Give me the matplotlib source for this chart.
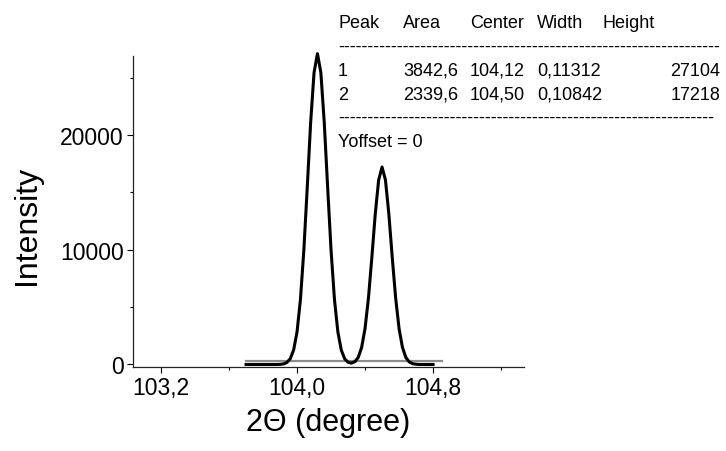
import matplotlib
matplotlib.use('Agg')
import matplotlib.pyplot as plt
from matplotlib.ticker import MultipleLocator, FuncFormatter

plt.rcParams['font.family'] = ['Liberation Sans', 'DejaVu Sans']

# Fitted curve (sum of two peaks)
two_theta = [103.70, 103.72, 103.74, 103.76, 103.78, 103.80, 103.82, 103.84,
             103.86, 103.88, 103.90, 103.92, 103.94, 103.96, 103.98, 104.00,
             104.02, 104.04, 104.06, 104.08, 104.10, 104.12, 104.14, 104.16,
             104.18, 104.20, 104.22, 104.24, 104.26, 104.28, 104.30, 104.32,
             104.34, 104.36, 104.38, 104.40, 104.42, 104.44, 104.46, 104.48,
             104.50, 104.52, 104.54, 104.56, 104.58, 104.60, 104.62, 104.64,
             104.66, 104.68, 104.70, 104.72, 104.74, 104.76, 104.78, 104.80]
intensity = [0, 0, 0, 0, 0, 0, 0, 0,
             0, 0, 10, 50, 170, 500, 1270, 2850,
             5680, 9970, 15440, 21110, 25460, 27104, 25460, 21110,
             15440, 9970, 5680, 2850, 1270, 500, 190, 120,
             240, 620, 1490, 3140, 5800, 9330, 13120, 16090,
             17218, 16090, 13120, 9330, 5800, 3140, 1490, 610,
             220, 70, 20, 0, 0, 0, 0, 0]

# grey baseline
base_x = [103.70, 104.85]
base_y = [300, 300]

# fit result table
header = ['Peak', 'Area', 'Center', 'Width', 'Height']
peaks = ['1', '2']
areas = ['3842,6', '2339,6']
centers = ['104,12', '104,50']
widths = ['0,11312', '0,10842']
heights = ['27104', '17218']

W, H = 726, 452
fig = plt.figure(figsize=(W / 100, H / 100), dpi=100)
ax = fig.add_axes([133 / W, 1 - 368 / H, (524 - 133) / W, (368 - 57) / H])

ax.plot(base_x, base_y, color='#8c8c8c', lw=1.6, zorder=2, clip_on=False)
ax.plot(two_theta, intensity, color='black', lw=2.2, zorder=3, clip_on=False)

ax.set_xlim(103.035, 105.335)
ax.set_ylim(-220, 26900)

ax.spines['top'].set_visible(False)
ax.spines['right'].set_visible(False)
for s in ['left', 'bottom']:
    ax.spines[s].set_linewidth(0.9)
    ax.spines[s].set_color('#222222')

ax.xaxis.set_major_locator(MultipleLocator(0.8))
ax.xaxis.set_minor_locator(MultipleLocator(0.4))
ax.yaxis.set_major_locator(MultipleLocator(10000))
ax.yaxis.set_minor_locator(MultipleLocator(5000))
ax.xaxis.set_major_formatter(FuncFormatter(lambda v, p: f'{v:.1f}'.replace('.', ',')))
ax.tick_params(which='major', direction='out', length=4.5, width=0.8, labelsize=16.5, pad=2)
ax.tick_params(which='minor', direction='out', length=2.5, width=0.8)

ax.set_ylabel('Intensity', fontsize=23)
ax.yaxis.set_label_coords(-0.233, 0.457)
ax.set_xlabel('2Θ (degree)', fontsize=22)
ax.xaxis.set_label_coords(0.5, -0.13)


def put(x, y, s, ha='left'):
    fig.text(x / W, 1 - y / H, s, fontsize=13, ha=ha, va='baseline')


cols = [338, 403, 470, 537, 603]
for c, h in zip(cols, header):
    put(c, 28, h)
put(338, 52, '-' * 65)
for i, yb in enumerate([76, 100]):
    put(cols[0], yb, peaks[i])
    put(cols[1], yb, areas[i])
    put(cols[2], yb, centers[i])
    put(cols[3], yb, widths[i])
    put(720, yb, heights[i], ha='right')
put(338, 123, '-' * 64)
put(338, 147, 'Yoffset = 0')

fig.savefig('out.png', dpi=100)
